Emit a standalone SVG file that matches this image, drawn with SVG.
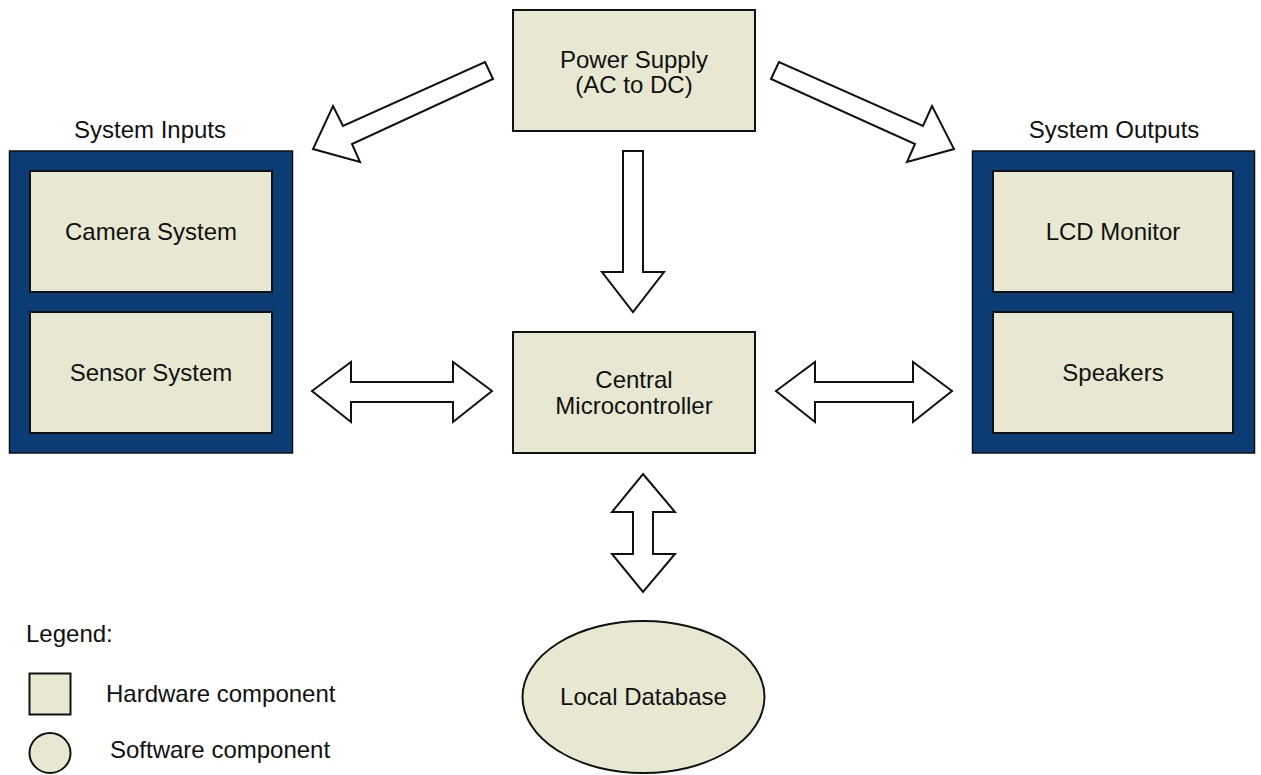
<svg xmlns="http://www.w3.org/2000/svg" width="1261" height="775" viewBox="0 0 1261 775">
<style>
  text { font-family: "Liberation Sans", Arial, sans-serif; font-size: 24px; fill: #111; }
  .c { text-anchor: middle; }
  .hw { fill: #e8e8d2; stroke: #111; stroke-width: 2; }
  .panel { fill: #0b3c75; stroke: #111; stroke-width: 1.5; }
  .arrow { fill: #fff; stroke: #111; stroke-width: 2; stroke-linejoin: miter; }
</style>
<rect width="1261" height="775" fill="#fff"/>

<g id="connectors">
  <polygon class="arrow" points="485,62 493,79 352,144 360,162 313,149 333,106 343,126"/>
  <polygon class="arrow" points="779,62 771,79 915,144 907,162 954,149 932,106 923,126"/>
  <polygon class="arrow" points="623,151 643,151 643,272 664,272 633,312 602,272 623,272"/>
  <polygon class="arrow" points="312,391 351,362 351,382 453,382 453,362 492,391 453,422 453,402 351,402 351,422"/>
  <polygon class="arrow" points="776,391 815,362 815,382 913,382 913,362 952,391 913,422 913,402 815,402 815,422"/>
  <polygon class="arrow" points="643,474 675,512 653,512 653,554 675,554 643,592 612,554 633,554 633,512 612,512"/>
</g>

<g id="power-supply">
  <rect class="hw" x="513" y="10" width="242" height="121"/>
  <text class="c" x="634" y="68">Power Supply</text>
  <text class="c" x="634" y="93">(AC to DC)</text>
</g>

<g id="system-inputs">
  <text class="c" x="150" y="138">System Inputs</text>
  <rect class="panel" x="9.5" y="151" width="283" height="302"/>
  <g id="camera-system">
    <rect class="hw" x="30" y="171" width="242" height="121"/>
    <text class="c" x="151" y="240">Camera System</text>
  </g>
  <g id="sensor-system">
    <rect class="hw" x="30" y="312" width="242" height="121"/>
    <text class="c" x="151" y="381">Sensor System</text>
  </g>
</g>

<g id="system-outputs">
  <text class="c" x="1114" y="138">System Outputs</text>
  <rect class="panel" x="972.5" y="151" width="282" height="302"/>
  <g id="lcd-monitor">
    <rect class="hw" x="993" y="171" width="240" height="121"/>
    <text class="c" x="1113" y="240">LCD Monitor</text>
  </g>
  <g id="speakers">
    <rect class="hw" x="993" y="312" width="240" height="121"/>
    <text class="c" x="1113" y="381">Speakers</text>
  </g>
</g>

<g id="central-microcontroller">
  <rect class="hw" x="513" y="332" width="242" height="121"/>
  <text class="c" x="634" y="388">Central</text>
  <text class="c" x="634" y="414">Microcontroller</text>
</g>

<g id="local-database">
  <ellipse class="hw" cx="643.5" cy="697" rx="121" ry="76"/>
  <text class="c" x="643.5" y="705">Local Database</text>
</g>

<g id="legend">
  <text x="26" y="642">Legend:</text>
  <rect class="hw" x="29.5" y="673.5" width="41" height="41"/>
  <text x="106" y="702">Hardware component</text>
  <ellipse class="hw" cx="50" cy="753" rx="20.5" ry="20"/>
  <text x="110" y="758">Software component</text>
</g>
</svg>
